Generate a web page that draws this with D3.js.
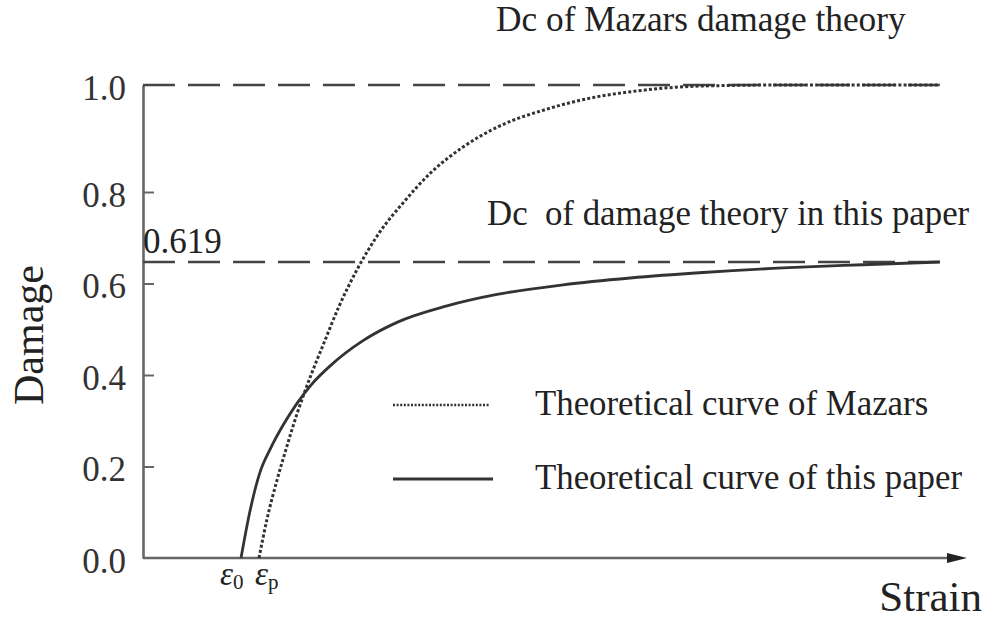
<!DOCTYPE html>
<html><head><meta charset="utf-8">
<script src="https://cdn.jsdelivr.net/npm/d3@7"></script>
</head>
<body style="margin:0;background:#fff">
<svg id="c" width="986" height="620" style="display:block"></svg>
<script>
// ---- data ----
const strainMazars = [14.5, 15.5, 16.75, 18, 19.25, 20.25, 21.75, 22.5, 24.5, 26.9, 29.5, 32.5, 35.9, 40, 44.25, 50.5, 56.75, 61.25, 69.6, 80, 99.6];
const damageMazars = [0, 0.085, 0.17, 0.245, 0.315, 0.365, 0.433, 0.465, 0.55, 0.635, 0.71, 0.776, 0.835, 0.884, 0.921, 0.955, 0.978, 0.988, 0.998, 1.0, 1.0];
const strainPaper  = [12.25, 13.4, 14.6, 15.9, 17.5, 19.25, 21, 23.4, 27.5, 31.75, 38, 44.25, 52.5, 60.9, 70, 80, 90, 99.6];
const damagePaper  = [0, 0.105, 0.186, 0.238, 0.29, 0.338, 0.378, 0.42, 0.475, 0.515, 0.551, 0.576, 0.597, 0.612, 0.624, 0.634, 0.641, 0.647];
const yTicks = [0, 0.2, 0.4, 0.6, 0.8, 1.0];
const dcMazars = 1.0;
const dcPaper = 0.647;          // drawn level of the lower dashed line
const dcPaperLabel = "0.619";
const eps0 = 12.25, epsP = 14.5;
const strainEnd = 99.6, strainArrow = 103;
const legendLabels = ["Theoretical curve of Mazars", "Theoretical curve of this paper"];
const annotMazars = "Dc of Mazars damage theory";
const annotPaper = "Dc\u00a0 of damage theory in this paper";

const FONT = "Liberation Serif";

// ---- scales ----
const svg = d3.select("#c");
const x = d3.scaleLinear().domain([0, 100]).range([143, 943]);
const y = d3.scaleLinear().domain([0, 0.8, 1.0]).range([558, 192, 85]);
const ink = "#333", axisInk = "#666";

function txt(sel, size) {
  return sel.style("font-family", FONT).style("font-size", size + "px").style("fill", "#222");
}

// y axis
const yAxis = d3.axisLeft(y).tickValues(yTicks).tickFormat(d3.format(".1f"))
  .tickSizeInner(-11).tickSizeOuter(0).tickPadding(17);
const gy = svg.append("g").attr("transform", `translate(${x(0)},0)`).call(yAxis);
gy.select(".domain").attr("stroke", axisInk).attr("stroke-width", 2.6);
gy.selectAll(".tick line").attr("stroke", axisInk).attr("stroke-width", 2)
  .attr("display", d => (d === 0 || d === 1) ? "none" : null);
txt(gy.selectAll(".tick text"), 35).style("fill", "#333").attr("dy", "0.4em");

// x axis with arrow
svg.append("line").attr("x1", x(0)).attr("x2", x(strainArrow) - 8).attr("y1", y(0)).attr("y2", y(0))
  .attr("stroke", axisInk).attr("stroke-width", 2.6);
svg.append("path").attr("d", `M${x(strainArrow)-20},${y(0)-5}L${x(strainArrow)},${y(0)}L${x(strainArrow)-20},${y(0)+5}Z`)
  .attr("fill", "#222");

// dashed Dc lines
[dcMazars, dcPaper].forEach(v => {
  svg.append("line").attr("x1", x(0)).attr("x2", x(strainEnd)).attr("y1", y(v)).attr("y2", y(v))
    .attr("stroke", "#444").attr("stroke-width", 2.6).attr("stroke-dasharray", "32,13");
});

// curves
const line = d3.line().x(d => x(d[0])).y(d => y(d[1])).curve(d3.curveMonotoneX);
svg.append("path").datum(d3.zip(strainPaper, damagePaper)).attr("d", line)
  .attr("fill", "none").attr("stroke", ink).attr("stroke-width", 2.8);
svg.append("path").datum(d3.zip(strainMazars, damageMazars)).attr("d", line)
  .attr("fill", "none").attr("stroke", ink).attr("stroke-width", 3).attr("stroke-dasharray", "3,2.2");

// annotations
txt(svg.append("text").attr("x", 496).attr("y", 31), 35.3).text(annotMazars);
txt(svg.append("text").attr("x", 487).attr("y", 225), 34.8).text(annotPaper);
txt(svg.append("text").attr("x", x(0)).attr("y", 253), 35).text(dcPaperLabel);

// epsilon labels
[[eps0, "0", -21], [epsP, "p", -4]].forEach(([v, sub, dx]) => {
  const t = txt(svg.append("text").attr("x", x(v) + dx).attr("y", 585), 33).style("font-style", "italic");
  t.append("tspan").text("ε");
  t.append("tspan").style("font-size", "21px").style("font-style", "normal").attr("dy", 4).text(sub);
});

// legend
const lg = svg.append("g");
lg.append("line").attr("x1", 393).attr("x2", 490).attr("y1", 405).attr("y2", 405)
  .attr("stroke", ink).attr("stroke-width", 2.4).attr("stroke-dasharray", "2,1.6");
lg.append("line").attr("x1", 393).attr("x2", 493).attr("y1", 479).attr("y2", 479)
  .attr("stroke", ink).attr("stroke-width", 2.8);
txt(lg.append("text").attr("x", 535).attr("y", 415), 34.8).text(legendLabels[0]);
txt(lg.append("text").attr("x", 535).attr("y", 489), 34.8).text(legendLabels[1]);

// axis titles
txt(svg.append("text").attr("transform", "translate(43,335) rotate(-90)").attr("text-anchor", "middle"), 42).text("Damage");
txt(svg.append("text").attr("x", 982).attr("y", 611).attr("text-anchor", "end"), 43).text("Strain");
</script></body></html>
